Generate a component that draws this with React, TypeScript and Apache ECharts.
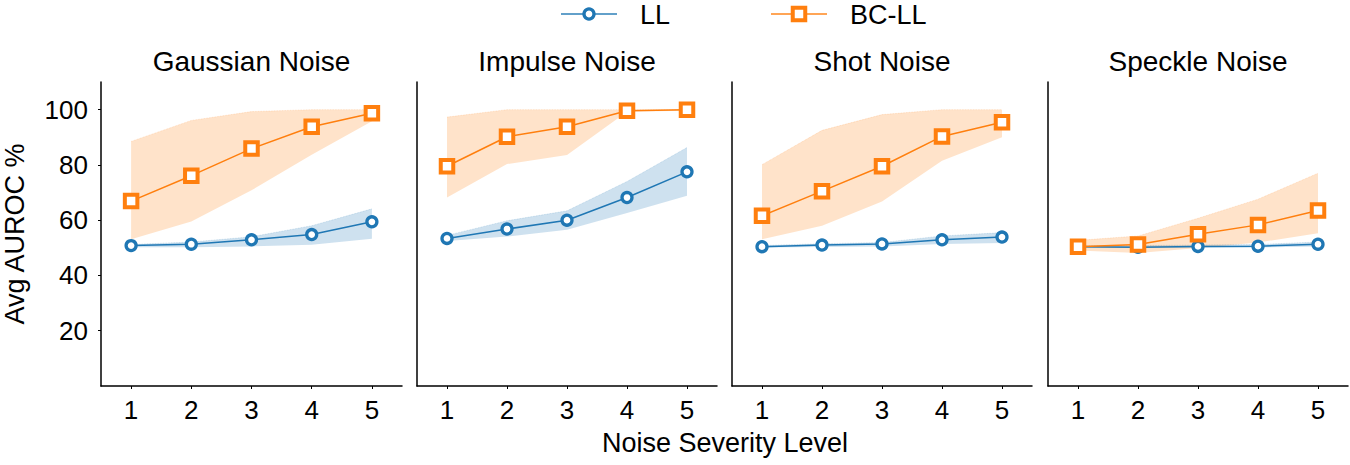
import React, { useEffect, useRef } from "react";
import * as echarts from "echarts";

const categories = ["1", "2", "3", "4", "5"];
const panelTitles = ["Gaussian Noise", "Impulse Noise", "Shot Noise", "Speckle Noise"];
const yTicks = [20, 40, 60, 80, 100];
const legendNames = ["LL", "BC-LL"];

// LL mean and band
const gaussianLL = [50.8, 51.3, 52.9, 54.8, 59.4];
const gaussianLLLo = [50.2, 50.2, 50.5, 51.1, 53.3];
const gaussianLLUp = [51.2, 52.1, 54.0, 58.0, 64.1];
const impulseLL = [53.4, 56.8, 60.0, 68.2, 77.5];
const impulseLLLo = [52.5, 54.1, 56.5, 62.6, 68.8];
const impulseLLUp = [54.5, 59.8, 63.4, 74.0, 86.3];
const shotLL = [50.4, 51.0, 51.4, 52.9, 53.9];
const shotLLLo = [50.1, 50.3, 50.5, 51.4, 51.7];
const shotLLUp = [50.8, 51.5, 51.9, 54.3, 55.5];
const speckleLL = [50.4, 50.2, 50.5, 50.6, 51.3];
const speckleLLLo = [50.0, 49.9, 50.0, 50.1, 50.5];
const speckleLLUp = [50.8, 50.8, 51.0, 51.2, 52.1];

// BC-LL mean and band
const gaussianBC = [66.9, 76.1, 85.9, 93.8, 98.7];
const gaussianBCLo = [53.1, 59.5, 70.8, 83.7, 95.8];
const gaussianBCUp = [88.5, 96.1, 99.3, 100, 100];
const impulseBC = [79.5, 90.2, 93.8, 99.6, 100.0];
const impulseBCLo = [68.2, 80.3, 83.6, 99.2, 99.6];
const impulseBCUp = [97.3, 100, 100, 100, 100];
const shotBC = [61.6, 70.5, 79.5, 90.3, 95.4];
const shotBCLo = [53.1, 58.0, 66.8, 81.5, 90.0];
const shotBCUp = [80.1, 92.5, 98.2, 100, 100];
const speckleBC = [50.4, 51.2, 54.9, 58.3, 63.5];
const speckleBCLo = [49.0, 48.1, 49.9, 51.9, 55.3];
const speckleBCUp = [52.7, 54.3, 60.7, 67.6, 77.0];

const llMeans = [gaussianLL, impulseLL, shotLL, speckleLL];
const llLows = [gaussianLLLo, impulseLLLo, shotLLLo, speckleLLLo];
const llUps = [gaussianLLUp, impulseLLUp, shotLLUp, speckleLLUp];
const bcMeans = [gaussianBC, impulseBC, shotBC, speckleBC];
const bcLows = [gaussianBCLo, impulseBCLo, shotBCLo, speckleBCLo];
const bcUps = [gaussianBCUp, impulseBCUp, shotBCUp, speckleBCUp];

const BLUE = "#1f77b4";
const ORANGE = "#ff7f0e";
const FONT = "'Liberation Sans', Arial, sans-serif";

const gridLefts = [101, 417, 732, 1048];
const gridWidths = [301, 300, 300, 300];

export default function App() {
  const ref = useRef<HTMLDivElement>(null);
  useEffect(() => {
    if (!ref.current) return;
    const chart = echarts.init(ref.current, undefined, { renderer: "svg" });

    const grids = gridLefts.map((l, i) => ({
      left: l,
      width: gridWidths[i],
      top: 82,
      bottom: 79,
    }));

    const xAxes = gridLefts.map((_, i) => ({
      type: "category",
      gridIndex: i,
      data: categories,
      boundaryGap: true,
      axisLine: { show: true, lineStyle: { color: "#000", width: 1.5 } },
      axisTick: { show: true, alignWithLabel: true, length: 3, lineStyle: { color: "#000" } },
      axisLabel: { color: "#000", fontSize: 26, fontFamily: FONT, margin: 11 },
      splitLine: { show: false },
    }));

    const yAxes = gridLefts.map((_, i) => ({
      type: "value",
      gridIndex: i,
      min: 0,
      max: 110,
      interval: 20,
      axisLine: { show: true, lineStyle: { color: "#000", width: 1.5 } },
      axisTick: {
        show: i === 0,
        length: 3,
        lineStyle: { color: "#000" },
        customValues: yTicks,
      },
      axisLabel: {
        show: i === 0,
        color: "#000",
        fontSize: 26,
        fontFamily: FONT,
        margin: 13,
        customValues: yTicks,
      },
      splitLine: { show: false },
      name: i === 0 ? "Avg AUROC %" : "",
      nameLocation: "middle",
      nameGap: 73,
      nameTextStyle: { color: "#000", fontSize: 27, fontFamily: FONT },
    }));

    const series: any[] = [];
    const addBand = (i: number, lo: number[], up: number[], key: string, color: string) => {
      series.push({
        type: "line",
        name: "band",
        xAxisIndex: i,
        yAxisIndex: i,
        stack: key + i,
        data: lo,
        symbol: "none",
        lineStyle: { opacity: 0 },
        silent: true,
      });
      series.push({
        type: "line",
        name: "band",
        xAxisIndex: i,
        yAxisIndex: i,
        stack: key + i,
        data: up.map((u, k) => +(u - lo[k]).toFixed(2)),
        symbol: "none",
        lineStyle: { width: 0.8, type: "dotted", color: color, opacity: 0.25 },
        areaStyle: { color: color, opacity: 0.22 },
        silent: true,
      });
    };
    for (let i = 0; i < 4; i++) {
      addBand(i, llLows[i], llUps[i], "ll", BLUE);
      addBand(i, bcLows[i], bcUps[i], "bc", ORANGE);
    }
    for (let i = 0; i < 4; i++) {
      series.push({
        type: "line",
        name: "LL",
        xAxisIndex: i,
        yAxisIndex: i,
        data: llMeans[i],
        symbol: "circle",
        symbolSize: 10,
        lineStyle: { color: BLUE, width: 1.5 },
        itemStyle: { color: "#fff", borderColor: BLUE, borderWidth: 3.3 },
      });
    }
    for (let i = 0; i < 4; i++) {
      series.push({
        type: "line",
        name: "BC-LL",
        xAxisIndex: i,
        yAxisIndex: i,
        data: bcMeans[i],
        symbol: "rect",
        symbolSize: 12.5,
        lineStyle: { color: ORANGE, width: 1.5 },
        itemStyle: { color: "#fff", borderColor: ORANGE, borderWidth: 4 },
      });
    }

    const titles: any[] = panelTitles.map((t, i) => ({
      text: t,
      left: gridLefts[i] + gridWidths[i] / 2,
      top: 47,
      textAlign: "center",
      padding: 0,
      textStyle: { color: "#000", fontSize: 28, fontWeight: "normal", fontFamily: FONT },
    }));
    titles.push({
      text: "Noise Severity Level",
      left: 725,
      top: 429,
      textAlign: "center",
      padding: 0,
      textStyle: { color: "#000", fontSize: 27, fontWeight: "normal", fontFamily: FONT },
    });

    // Legend drawn as graphic elements (line + marker + label)
    const ly = 14;
    const legendGraphic: any[] = [
      {
        type: "line",
        shape: { x1: 561, y1: ly, x2: 617, y2: ly },
        style: { stroke: BLUE, lineWidth: 2, opacity: 0.7 },
      },
      {
        type: "circle",
        shape: { cx: 589, cy: ly, r: 5 },
        style: { fill: "#fff", stroke: BLUE, lineWidth: 3.3 },
      },
      {
        type: "text",
        style: {
          text: legendNames[0],
          x: 640,
          y: ly + 1,
          fill: "#000",
          fontSize: 27,
          fontFamily: FONT,
          verticalAlign: "middle",
        },
      },
      {
        type: "line",
        shape: { x1: 771, y1: ly, x2: 827, y2: ly },
        style: { stroke: ORANGE, lineWidth: 2, opacity: 0.7 },
      },
      {
        type: "rect",
        shape: { x: 799 - 6.25, y: ly - 6.25, width: 12.5, height: 12.5 },
        style: { fill: "#fff", stroke: ORANGE, lineWidth: 4 },
      },
      {
        type: "text",
        style: {
          text: legendNames[1],
          x: 850,
          y: ly + 1,
          fill: "#000",
          fontSize: 27,
          fontFamily: FONT,
          verticalAlign: "middle",
        },
      },
    ];

    chart.setOption({
      animation: false,
      backgroundColor: "#fff",
      title: titles,
      grid: grids,
      xAxis: xAxes,
      yAxis: yAxes,
      series,
      graphic: legendGraphic,
    });
    return () => chart.dispose();
  }, []);
  return (
    <div
      ref={ref}
      style={{ position: "absolute", left: 0, top: 0, width: 1350, height: 465 }}
    />
  );
}
